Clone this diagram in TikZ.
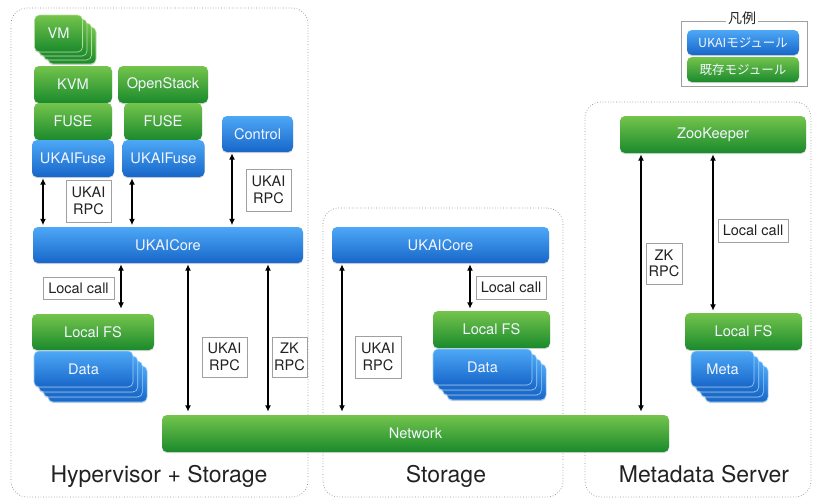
\documentclass[tikz,border=0pt]{standalone}
\usepackage{fontspec}
\setmainfont{TeX Gyre Heros}
\newfontfamily\jpfont{Noto Sans CJK JP}
\usetikzlibrary{shadows,arrows.meta}

\definecolor{bluetop}{HTML}{4DA8F6}
\definecolor{bluebot}{HTML}{1766C9}
\definecolor{greentop}{HTML}{74C44C}
\definecolor{greenbot}{HTML}{1A8A2C}
\definecolor{framegray}{HTML}{8A8A8A}
\definecolor{taggray}{HTML}{A0A0A0}
\definecolor{inktext}{HTML}{222222}
\definecolor{modtext}{HTML}{F2F6FF}

\begin{document}
\begin{tikzpicture}[x=1pt,y=-1pt,
  module/.style={rounded corners=5pt, inner sep=0pt, text=modtext,
    font=\fontsize{14.6}{16}\selectfont,
    drop shadow={shadow xshift=0pt, shadow yshift=-1.2pt, opacity=0.3}},
  bluemod/.style={module, top color=bluetop, bottom color=bluebot},
  greenmod/.style={module, top color=greentop, bottom color=greenbot},
  bluecard/.style={bluemod, draw=bluetop!55!white, line width=0.6pt},
  greencard/.style={greenmod, draw=greentop!55!white, line width=0.6pt},
  sz/.style 2 args={minimum width=#1, minimum height=#2},
  tag/.style={draw=taggray, fill=white, line width=0.8pt, inner sep=0pt,
    align=center, text=inktext, font=\fontsize{14.5}{16.5}\selectfont},
  group/.style={draw=framegray, dotted, line width=0.7pt, rounded corners=16pt, inner sep=0pt},
  link/.style={{Latex[length=6.5pt,width=6pt]}-{Latex[length=6.5pt,width=6pt]},
    line width=1.3pt, shorten <=1pt, shorten >=1.5pt},
  grouptitle/.style={anchor=base, text=inktext, font=\fontsize{23}{26}\selectfont}
]
\useasboundingbox (0,0) rectangle (814,498);

% ---- host groups
\node[group, sz={297}{489}] (ghv) at (159.5,252.5) {};
\node[group, sz={240}{289}] (gst) at (443,352.5) {};
\node[group, sz={226}{395}] (gmd) at (698,299.5) {};
\node[grouptitle] (thv) at (159,482) {Hypervisor + Storage};
\node[grouptitle] (tst) at (446,482) {Storage};
\node[grouptitle] (tmd) at (704,482) {Metadata Server};

% ---- legend
\node[draw=taggray, line width=0.8pt, sz={126}{65}, inner sep=0pt] (legend) at (744,53.5) {};
\node[fill=white, inner sep=2pt, text=inktext, font=\jpfont\fontsize{14}{16}\selectfont] (legendtitle) at (742,18) {凡例};
\node[bluemod, sz={112}{25}, font=\jpfont\fontsize{12.5}{14}\selectfont] (lgblue) at (743,42.5) {UKAIモジュール};
\node[greenmod, sz={112}{25}, font=\jpfont\fontsize{12.5}{14}\selectfont] (lggreen) at (743,69.5) {既存モジュール};

% ---- hypervisor + storage stack
\foreach \k in {3,2,1}
  \node[greencard, sz={48}{37}] (vm\k) at ({58.5+4.5*\k},{33.5+4*\k}) {};
\node[greencard, sz={48}{37}] (vm) at (58.5,33.5) {VM};
\node[greenmod, sz={78}{37}] (kvm) at (73,84.5) {KVM};
\node[greenmod, sz={78}{37}] (fuseL) at (73,121.5) {FUSE};
\node[bluemod, sz={82}{37}] (ufuseL) at (73,158.5) {UKAIFuse};
\node[greenmod, sz={90}{37}] (openstack) at (163,84.5) {OpenStack};
\node[greenmod, sz={78}{37}] (fuseR) at (163,121.5) {FUSE};
\node[bluemod, sz={82}{37}] (ufuseR) at (163.5,158.5) {UKAIFuse};
\node[bluemod, sz={71}{36}] (control) at (257.5,134) {Control};
\node[bluemod, sz={270}{36}] (coreH) at (168,245) {UKAICore};
\node[greenmod, sz={122}{36}] (lfsH) at (93,332) {Local FS};
\foreach \k in {3,2,1}
  \node[bluecard, sz={99}{36}] (dataH\k) at ({83.5+4.7*\k},{369+5*\k}) {};
\node[bluecard, sz={99}{36}] (dataH) at (83.5,369) {Data};

% ---- storage node
\node[bluemod, sz={217}{36}] (coreS) at (440.5,245) {UKAICore};
\node[greenmod, sz={117}{37}] (lfsS) at (491.5,329.5) {Local FS};
\foreach \k in {3,2,1}
  \node[bluecard, sz={99}{36}] (dataS\k) at ({482.5+4.7*\k},{367+5*\k}) {};
\node[bluecard, sz={99}{36}] (dataS) at (482.5,367) {Data};

% ---- metadata server
\node[greenmod, sz={186}{37}] (zk) at (713,134.5) {ZooKeeper};
\node[greenmod, sz={117}{37}] (lfsM) at (743.5,331.5) {Local FS};
\foreach \k in {3,2,1}
  \node[bluecard, sz={63}{36}] (meta\k) at ({722.5+4.7*\k},{369+5*\k}) {};
\node[bluecard, sz={63}{36}] (meta) at (722.5,369) {Meta};

% ---- shared network
\node[greenmod, sz={507}{37}] (net) at (415.5,433.5) {Network};

% ---- arrow columns
\coordinate (a1) at (43,0);
\coordinate (a2) at (132,0);
\coordinate (a3) at (232,0);
\coordinate (a4) at (121,0);
\coordinate (a5) at (188,0);
\coordinate (a6) at (268,0);
\coordinate (a7) at (342,0);
\coordinate (a8) at (470,0);
\coordinate (a9) at (641,0);
\coordinate (a10) at (713,0);

\draw[link] (a1 |- ufuseL.south) -- (a1 |- coreH.north);
\draw[link] (a2 |- ufuseR.south) -- (a2 |- coreH.north);
\draw[link] (a3 |- control.south) -- (a3 |- coreH.north);
\draw[link, shorten >=5pt] (a4 |- coreH.south) -- (a4 |- lfsH.north);
\draw[link, shorten >=3pt] (a5 |- coreH.south) -- (a5 |- net.north);
\draw[link, shorten >=3pt] (a6 |- coreH.south) -- (a6 |- net.north);
\draw[link, shorten >=3pt] (a7 |- coreS.south) -- (a7 |- net.north);
\draw[link, shorten >=2pt] (a8 |- coreS.south) -- (a8 |- lfsS.north);
\draw[link, shorten >=3pt] (a9 |- zk.south) -- (a9 |- net.north);
\draw[link, shorten >=2pt] (a10 |- zk.south) -- (a10 |- lfsM.north);

% ---- connector labels
\node[tag, sz={45}{42}] (t1) at (88.5,201) {UKAI\\RPC};
\node[tag, sz={45}{42}] (t2) at (268.5,190) {UKAI\\RPC};
\node[tag, sz={71}{22}] (t3) at (78.5,288) {Local call};
\node[tag, sz={45}{40}] (t4) at (224.5,357) {UKAI\\RPC};
\node[tag, sz={35}{40}] (t5) at (289.5,357) {ZK\\RPC};
\node[tag, sz={46}{42}] (t6) at (378,357) {UKAI\\RPC};
\node[tag, sz={70}{23}] (t7) at (511,287.5) {Local call};
\node[tag, sz={36}{41}] (t8) at (664,263.5) {ZK\\RPC};
\node[tag, sz={70}{23}] (t9) at (753,230.5) {Local call};
\end{tikzpicture}
\end{document}
